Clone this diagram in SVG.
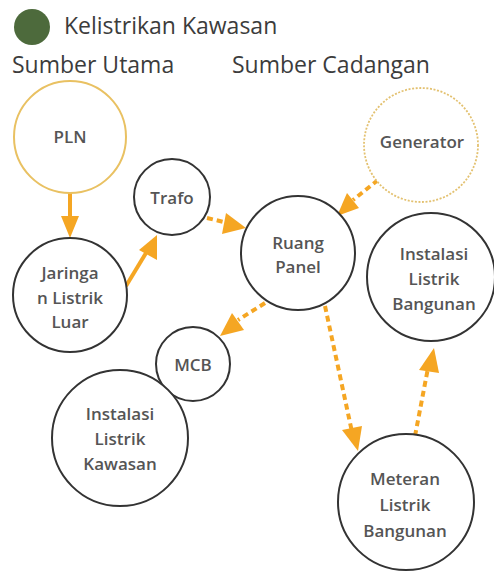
<svg xmlns="http://www.w3.org/2000/svg" width="494" height="571" viewBox="0 0 494 571">
<style>
.bg{fill:#fff}
.node{fill:#fff;stroke:#333;stroke-width:2}
.gold{fill:#fff;stroke:#e9c162;stroke-width:2}
.golddash{fill:#fff;stroke:#e3c170;stroke-width:1.8;stroke-dasharray:2 1.6}
.lbl{font-family:"Open Sans","Noto Sans",sans-serif;font-size:17px;font-weight:600;fill:#555;text-anchor:middle}
.hdr{font-family:"Open Sans","Noto Sans",sans-serif;font-size:23px;fill:#3c3c3c}
.solid{stroke:#f5a623;stroke-width:4;fill:none}
.dash{stroke:#f5a623;stroke-width:4;fill:none;stroke-dasharray:6 4}
.head{fill:#f5a623}
</style>
<rect class="bg" x="0" y="0" width="494" height="571"/>
<g id="legend">
<circle cx="32" cy="27" r="18" fill="#4d6a3c"/>
<text class="hdr" x="64" y="34">Kelistrikan Kawasan</text>
<text class="hdr" x="12" y="73">Sumber Utama</text>
<text class="hdr" x="232" y="73">Sumber Cadangan</text>
</g>
<g id="connectors">
<line class="solid" x1="70" y1="193" x2="70" y2="218"/>
<polygon class="head" points="61,216 79,216 70,238"/>
<line class="solid" x1="126" y1="286" x2="146" y2="253"/>
<polygon class="head" points="139,250 157,260 157,235"/>
<line class="dash" x1="207" y1="218" x2="228" y2="223"/>
<polygon class="head" points="226,213 222,234 246,228"/>
<line class="dash" x1="378" y1="180" x2="353" y2="200"/>
<polygon class="head" points="347,193 359,208 337,216"/>
<line class="dash" x1="265" y1="303" x2="238" y2="320"/>
<polygon class="head" points="232,313 244,330 220,336"/>
<line class="dash" x1="325" y1="306" x2="352" y2="432"/>
<polygon class="head" points="342,430 362,426 358,451"/>
<line class="dash" x1="415" y1="436" x2="428" y2="368"/>
<polygon class="head" points="419,370 439,373 434,348"/>
</g>
<g id="pln"><circle class="gold" cx="70" cy="137" r="56"/><text class="lbl" x="70" y="143">PLN</text></g>
<g id="generator"><circle class="golddash" cx="421" cy="145" r="57"/><text class="lbl" x="422" y="148">Generator</text></g>
<g id="jaringan"><circle class="node" cx="70" cy="295" r="57"/><text class="lbl" x="70" y="279">Jaringa</text><text class="lbl" x="70" y="304">n Listrik</text><text class="lbl" x="70" y="328">Luar</text></g>
<g id="trafo"><circle class="node" cx="172" cy="197" r="38"/><text class="lbl" x="172" y="204">Trafo</text></g>
<g id="ruang-panel"><circle class="node" cx="298" cy="253" r="57"/><text class="lbl" x="298" y="249">Ruang</text><text class="lbl" x="298" y="273">Panel</text></g>
<g id="instalasi-bangunan"><circle class="node" cx="431" cy="277" r="64"/><text class="lbl" x="434" y="260">Instalasi</text><text class="lbl" x="434" y="285">Listrik</text><text class="lbl" x="434" y="310">Bangunan</text></g>
<g id="mcb"><circle class="node" cx="193" cy="364" r="37"/><text class="lbl" x="193" y="371">MCB</text></g>
<g id="instalasi-kawasan"><circle class="node" cx="120" cy="438" r="68"/><text class="lbl" x="120" y="420">Instalasi</text><text class="lbl" x="120" y="445">Listrik</text><text class="lbl" x="120" y="470">Kawasan</text></g>
<g id="meteran"><circle class="node" cx="406" cy="502" r="68"/><text class="lbl" x="405" y="485">Meteran</text><text class="lbl" x="405" y="511">Listrik</text><text class="lbl" x="405" y="537">Bangunan</text></g>
</svg>
